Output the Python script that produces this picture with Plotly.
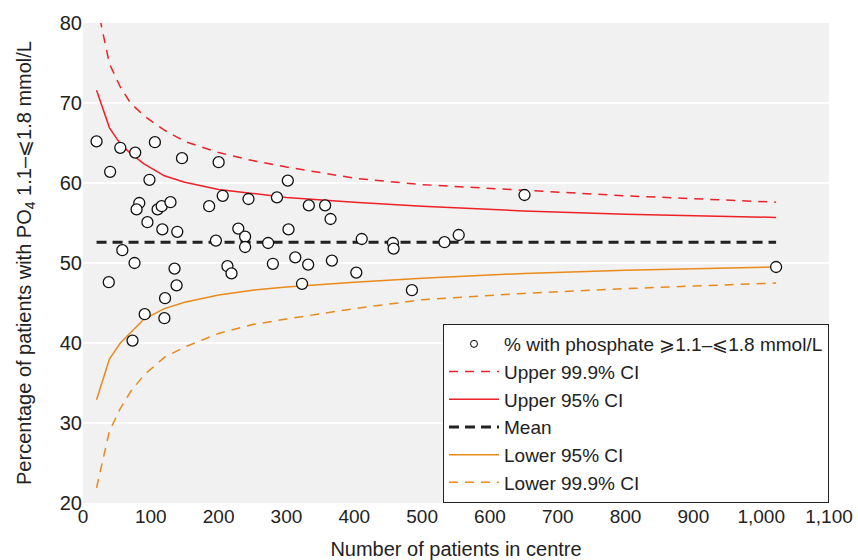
import plotly.graph_objects as go

# Centre data: number of patients and % with phosphate in range
centre_n = [20, 55, 77, 106, 146, 200, 40, 98, 83, 79, 110, 116, 129, 186, 206,
            244, 286, 95, 117, 139, 229, 239, 239, 196, 273, 58, 76, 135, 213,
            219, 280, 38, 138, 121, 91, 120, 73, 302, 333, 357, 365, 303, 411,
            313, 332, 367, 403, 323, 457, 458, 533, 554, 485, 651, 1022]
centre_pct = [65.2, 64.4, 63.8, 65.1, 63.1, 62.6, 61.4, 60.4, 57.5, 56.7, 56.7,
              57.1, 57.6, 57.1, 58.4, 58.0, 58.2, 55.1, 54.2, 53.9, 54.3, 53.3,
              52.0, 52.8, 52.5, 51.6, 50.0, 49.3, 49.6, 48.7, 49.9, 47.6, 47.2,
              45.6, 43.6, 43.1, 40.3, 60.3, 57.2, 57.2, 55.5, 54.2, 53.0, 50.7,
              49.8, 50.3, 48.8, 47.4, 52.5, 51.8, 52.6, 53.5, 46.6, 58.5, 49.5]

# Control limits
limit_n = [20, 39, 55, 70, 90, 120, 150, 200, 250, 300, 400, 500, 650, 800, 1022]
upper_999 = [82.5, 74.9, 72.0, 70.0, 68.4, 66.6, 65.2, 63.8, 62.8, 62.0, 60.6, 59.8, 59.1, 58.4, 57.6]
upper_95 = [71.6, 66.9, 64.9, 63.7, 62.4, 60.9, 60.1, 59.2, 58.7, 58.2, 57.6, 57.1, 56.5, 56.1, 55.7]
mean_val = [52.6] * len(limit_n)
lower_95 = [32.9, 38.0, 40.0, 41.3, 43.0, 44.3, 45.1, 46.0, 46.6, 47.0, 47.6, 48.1, 48.7, 49.1, 49.5]
lower_999 = [21.9, 29.0, 31.8, 33.9, 36.0, 38.2, 39.5, 41.2, 42.3, 43.0, 44.3, 45.4, 46.2, 46.8, 47.5]

x_ticks = [0, 100, 200, 300, 400, 500, 600, 700, 800, 900, 1000, 1100]
x_tick_labels = ["0", "100", "200", "300", "400", "500", "600", "700", "800", "900", "1,000", "1,100"]

RED = "#EE2127"
ORANGE = "#E98A1B"
FONT = "Liberation Sans, Arial, sans-serif"
TXT = "#222222"

fig = go.Figure()

# legend-only marker entry (small symbol)
fig.add_trace(go.Scatter(x=[None], y=[None], mode="markers", name="% with phosphate ⩾1.1–⩽1.8 mmol/L",
                         marker=dict(symbol="circle", size=7, color="white", line=dict(color="black", width=1))))
fig.add_trace(go.Scatter(x=limit_n, y=upper_999, mode="lines", name="Upper 99.9% CI",
                         line=dict(color=RED, width=1.5, dash="9px,7px")))
fig.add_trace(go.Scatter(x=limit_n, y=upper_95, mode="lines", name="Upper 95% CI",
                         line=dict(color=RED, width=1.5)))
fig.add_trace(go.Scatter(x=limit_n, y=mean_val, mode="lines", name="Mean",
                         line=dict(color="#222222", width=3, dash="10px,6px")))
fig.add_trace(go.Scatter(x=limit_n, y=lower_95, mode="lines", name="Lower 95% CI",
                         line=dict(color=ORANGE, width=1.5)))
fig.add_trace(go.Scatter(x=limit_n, y=lower_999, mode="lines", name="Lower 99.9% CI",
                         line=dict(color=ORANGE, width=1.5, dash="9px,7px")))
fig.add_trace(go.Scatter(x=centre_n, y=centre_pct, mode="markers", showlegend=False,
                         marker=dict(symbol="circle", size=11, color="white",
                                     line=dict(color="#111111", width=1.3))))

fig.update_layout(
    width=858, height=560,
    margin=dict(l=83, r=29, t=23, b=57),
    paper_bgcolor="white",
    plot_bgcolor="#F0F1F0",
    font=dict(family=FONT, size=20, color=TXT),
    showlegend=True,
    legend=dict(x=1, xanchor="right", y=0, yanchor="bottom",
                bgcolor="white", bordercolor="#222222", borderwidth=1,
                font=dict(family=FONT, size=19, color=TXT),
                itemwidth=50,
                traceorder="normal"),
    xaxis=dict(range=[0, 1100], tickvals=x_ticks, ticktext=x_tick_labels,
               showgrid=False, zeroline=False, showline=False, ticks="",
               tickfont=dict(size=19),
               title=dict(text="Number of patients in centre", font=dict(size=20), standoff=16),
               automargin=False),
    yaxis=dict(range=[20, 80], dtick=10, showgrid=True, gridcolor="white", gridwidth=2,
               zeroline=False, showline=False, ticks="",
               tickfont=dict(size=20),
               title=dict(text="Percentage of patients with PO<sub>4</sub> 1.1–⩽1.8 mmol/L",
                          font=dict(size=20), standoff=22),
               automargin=False),
)

fig.write_html("out.html")
